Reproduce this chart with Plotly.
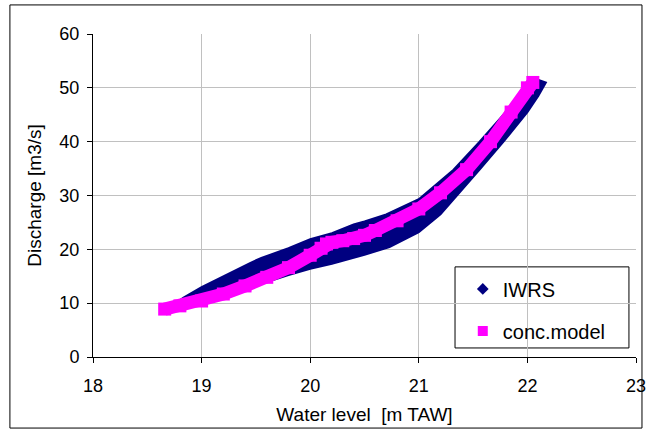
import plotly.graph_objects as go

# conc.model curve (water level [m TAW], discharge [m3/s])
model_x = [18.66, 18.8, 19.0, 19.2, 19.4, 19.6, 19.8, 20.0, 20.1, 20.15, 20.2, 20.3, 20.4, 20.5,
           20.6, 20.8, 21.0, 21.2, 21.44, 21.66, 21.85, 22.0, 22.05]
model_y = [8.9, 9.5, 10.4, 11.7, 13.2, 14.8, 16.6, 18.9, 20.2, 21.0, 21.3, 21.6, 22.0, 22.6,
           23.5, 25.3, 27.5, 30.5, 34.8, 40.0, 45.5, 50.0, 51.0]

# IWRS measurement cloud: lower and upper envelope of the points
iwrs_low_x = [18.75, 19.0, 19.3, 19.6, 19.8, 20.0, 20.2, 20.5, 20.73, 21.0, 21.2, 21.56, 21.78, 22.0, 22.1, 22.17]
iwrs_low_y = [8.8, 9.8, 12.0, 14.0, 15.2, 16.4, 17.3, 19.0, 20.4, 23.2, 26.5, 34.8, 40.0, 45.5, 48.5, 51.0]
iwrs_up_x = [18.75, 18.83, 19.0, 19.2, 19.45, 19.55, 19.8, 20.0, 20.2, 20.4, 20.5, 20.7, 21.0, 21.32, 21.56, 21.8, 22.0, 22.1]
iwrs_up_y = [9.8, 11.0, 13.0, 15.0, 17.5, 18.4, 20.2, 21.9, 23.0, 24.6, 25.2, 26.5, 29.3, 34.8, 40.0, 45.5, 50.3, 51.5]

x_ticks = [18, 19, 20, 21, 22, 23]
y_ticks = [0, 10, 20, 30, 40, 50, 60]

NAVY = "#000080"
MAGENTA = "#ff00ff"

band_x = iwrs_low_x + iwrs_up_x[::-1]
band_y = iwrs_low_y + iwrs_up_y[::-1]

fig = go.Figure()
fig.add_trace(go.Scatter(x=band_x, y=band_y, mode="lines", fill="toself", fillcolor=NAVY,
                         line=dict(color=NAVY, width=2), showlegend=False, hoverinfo="skip"))
fig.add_trace(go.Scatter(x=model_x, y=model_y, mode="lines+markers",
                         line=dict(color=MAGENTA, width=13),
                         marker=dict(symbol="square", size=13, color=MAGENTA),
                         showlegend=False))
# legend entries
fig.add_trace(go.Scatter(x=[None], y=[None], mode="markers", name="IWRS", legendgroup="a",
                         marker=dict(symbol="diamond", size=9, color=NAVY)))
fig.add_trace(go.Scatter(x=[None], y=[None], mode="markers", name="conc.model", legendgroup="b",
                         marker=dict(symbol="square", size=10, color=MAGENTA)))

FONT = "Liberation Sans, Arial, sans-serif"
fig.update_layout(
    width=652, height=433,
    margin=dict(l=93, r=16, t=34, b=76),
    paper_bgcolor="white", plot_bgcolor="white",
    font=dict(family=FONT, color="black", size=18),
    showlegend=True,
    legend=dict(x=0.681, y=0.271, xanchor="left", yanchor="top",
                bgcolor="rgba(0,0,0,0)", borderwidth=0,
                font=dict(size=20, family=FONT, color="black"),
                tracegroupgap=13),
    xaxis=dict(range=[18, 23], tickvals=x_ticks, ticktext=[str(v) for v in x_ticks],
               showgrid=True, gridcolor="#c0c0c0", gridwidth=1,
               showline=True, linecolor="black", linewidth=1,
               ticks="outside", ticklen=5, tickcolor="black", zeroline=False,
               tickfont=dict(size=18), ticklabelstandoff=7, automargin=False,
               title=dict(text="Water level  [m TAW]", font=dict(size=19), standoff=13)),
    yaxis=dict(range=[0, 60], tickvals=y_ticks, ticktext=[str(v) for v in y_ticks],
               showgrid=True, gridcolor="#c0c0c0", gridwidth=1,
               showline=True, linecolor="black", linewidth=1,
               ticks="outside", ticklen=5, tickcolor="black", zeroline=False,
               tickfont=dict(size=18), ticklabelstandoff=4, automargin=False,
               title=dict(text="Discharge [m3/s]", font=dict(size=19), standoff=12)),
    shapes=[
        dict(type="rect", xref="paper", yref="paper", x0=0.6667, x1=0.987, y0=0.028, y1=0.279,
             line=dict(color="black", width=1), fillcolor="white", layer="below"),
        dict(type="rect", xref="paper", yref="paper", x0=-0.153, x1=1.011, y0=-0.220, y1=1.090,
             line=dict(color="black", width=1), fillcolor="rgba(0,0,0,0)"),
    ],
)

fig.write_html("out.html")
